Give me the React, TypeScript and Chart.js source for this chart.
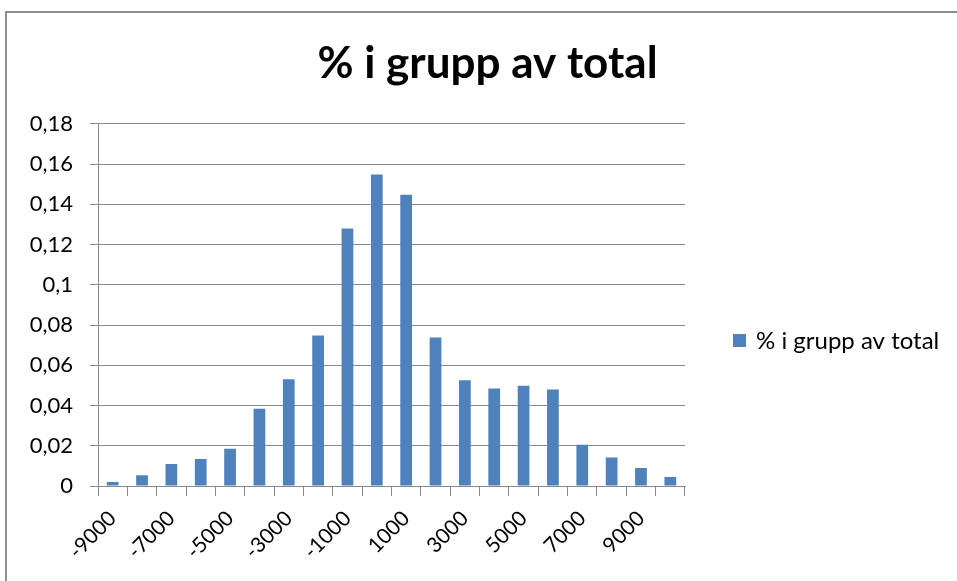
import React, { useEffect, useRef } from "react";
import { Chart, registerables } from "chart.js";

Chart.register(...registerables);

const TITLE = "% i grupp av total";
const SERIES_NAME = "% i grupp av total";
const categories = [
  "-9000", "-8000", "-7000", "-6000", "-5000", "-4000", "-3000", "-2000", "-1000", "0",
  "1000", "2000", "3000", "4000", "5000", "6000", "7000", "8000", "9000", "10000",
];
const values = [
  0.002, 0.0053, 0.0109, 0.0134, 0.0185, 0.0384, 0.053, 0.0748, 0.128, 0.1548,
  0.1447, 0.0738, 0.0525, 0.0485, 0.0498, 0.048, 0.0205, 0.0142, 0.0089, 0.0045,
];
const Y_MIN = 0;
const Y_MAX = 0.18;
const Y_STEP = 0.02;

const FONT = "Lato, 'Liberation Sans', sans-serif";
const GRID = "#8a8a8a";
const BAR = "#4f81bd";

const frame = {
  id: "frame",
  beforeDraw(chart: any) {
    const ctx = chart.ctx;
    ctx.save();
    ctx.fillStyle = "#ffffff";
    ctx.fillRect(0, 0, chart.width, chart.height);
    ctx.strokeStyle = "#8f8f8f";
    ctx.lineWidth = 2;
    ctx.strokeRect(6, 12, chart.width + 20, chart.height + 20);
    ctx.restore();
  },
};

// Legend drawn to the right of the plot, from the dataset's own label and colour
const sideLegend = {
  id: "sideLegend",
  afterDraw(chart: any) {
    const ctx = chart.ctx;
    const ds = chart.data.datasets[0];
    const box = 13;
    const x0 = chart.chartArea.right + 48;
    const cy = 340.5;
    ctx.save();
    ctx.fillStyle = ds.backgroundColor;
    ctx.fillRect(x0, cy - box / 2, box, box);
    ctx.fillStyle = "#000";
    ctx.font = `24px ${FONT}`;
    ctx.textBaseline = "alphabetic";
    ctx.textAlign = "left";
    ctx.fillText(ds.label, x0 + box + 10, cy + 8);
    ctx.restore();
  },
};

export default function App() {
  const ref = useRef<HTMLCanvasElement | null>(null);
  useEffect(() => {
    if (!ref.current) return;
    const chart = new Chart(ref.current, {
      type: "bar",
      data: {
        labels: categories,
        datasets: [
          {
            label: SERIES_NAME,
            data: values,
            backgroundColor: BAR,
            borderWidth: 0,
            barPercentage: 0.4,
            categoryPercentage: 1,
          },
        ],
      },
      options: {
        responsive: false,
        animation: false,
        layout: { padding: { left: 18, right: 0, top: 12, bottom: 0 } },
        plugins: {
          title: {
            display: true,
            text: TITLE,
            color: "#000",
            font: { family: FONT, size: 44, weight: "bold" },
            padding: { top: 25, bottom: 34 },
          },
          legend: { display: false },
          tooltip: { enabled: false },
        },
        scales: {
          x: {
            grid: {
              display: true,
              drawOnChartArea: false,
              drawTicks: true,
              tickLength: 10,
              color: GRID,
            },
            border: { display: true, color: GRID, width: 1 },
            ticks: {
              autoSkip: false,
              maxRotation: 45,
              minRotation: 45,
              padding: 10,
              color: "#000",
              font: { family: FONT, size: 21 },
              callback: (_v: any, i: number) => (i % 2 === 0 ? categories[i] : ""),
            },
            afterFit: (s: any) => {
              s.height = 95;
            },
          },
          y: {
            min: Y_MIN,
            max: Y_MAX,
            grid: { color: GRID, tickLength: 8, lineWidth: 1 },
            border: { display: true, color: GRID, width: 1 },
            ticks: {
              stepSize: Y_STEP,
              padding: 17,
              color: "#000",
              font: { family: FONT, size: 22 },
              callback: (v: any) => {
                const n = Math.round(Number(v) * 100) / 100;
                return String(n).replace(".", ",");
              },
            },
            afterFit: (s: any) => {
              s.width = 80;
            },
          },
          legendSpace: {
            type: "linear",
            position: "right",
            display: true,
            grid: { display: false },
            border: { display: false },
            ticks: { display: false },
            afterFit: (s: any) => {
              s.width = 272;
            },
          },
        },
      },
      plugins: [frame, sideLegend],
    });
    return () => chart.destroy();
  }, []);
  return (
    <div style={{ position: "absolute", left: 0, top: 0, width: 957, height: 581 }}>
      <canvas ref={ref} width={957} height={581} style={{ display: "block" }} />
    </div>
  );
}
